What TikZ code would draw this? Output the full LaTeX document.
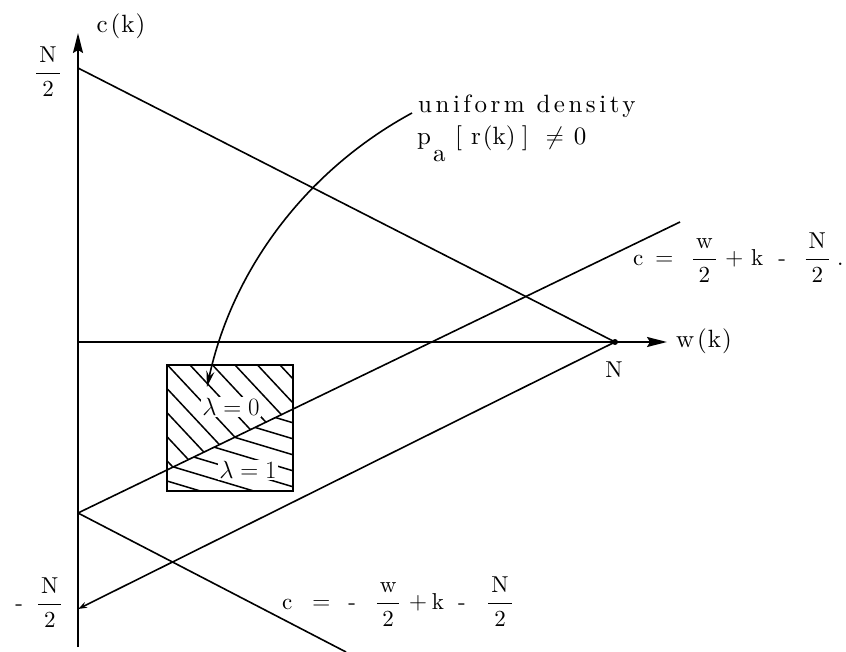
\documentclass[tikz,border=0pt]{standalone}
\usepackage{amsmath}
\usepackage{fontspec}
\setmainfont{lmroman10-regular.otf}[ItalicFont=lmroman10-italic.otf, BoldFont=lmroman10-bold.otf]
\newfontfamily\spacedfont{lmroman10-regular.otf}[LetterSpace=14]
\usetikzlibrary{arrows.meta}
\newcommand{\myfrac}[2]{\dfrac{\hspace{3pt}\mathrm{#1}\hspace{3pt}}{\mathrm{#2}}}
\begin{document}
\begin{tikzpicture}[x=1pt,y=-1pt,
  lbl/.style={font=\fontsize{23}{27}\selectfont, inner sep=0pt},
  word/.style={font=\fontsize{25}{29}\selectfont, inner sep=0pt},
  ln/.style={line width=1.6pt},
  axisline/.style={line width=1.8pt, -{Stealth[length=20pt,width=10pt,inset=3pt]}},
  hatch/.style={line width=1.5pt},
  boxline/.style={line width=2pt},
]
\useasboundingbox (0,0) rectangle (846,652);
% key points
\coordinate (O) at (78,342);
\coordinate (ytop) at (78,33);
\coordinate (ybot) at (78,647);
\coordinate (xend) at (667,342);
\coordinate (cpos) at (78,68);
\coordinate (cneg) at (78,609);
\coordinate (vA) at (78,513);
\coordinate (Nw) at (615,342);
\coordinate (Aend) at (680,222);
\coordinate (Cend) at (346,652);
\coordinate (bxA) at (167,365);
\coordinate (bxB) at (293,491);
\coordinate (cs) at (412,113);
\coordinate (ctip) at (207,387);

% hatching above line A (lambda = 0)
\begin{scope}
  \clip (167,365) -- (293,365) -- (293,409.5) -- (167,470.5) -- cycle;
  \foreach \x in {77.5,100,...,302.5}
    \draw[hatch] (\x-150,365-160.5) -- (\x+150,365+160.5);
\end{scope}
% hatching below line A (lambda = 1)
\begin{scope}
  \clip (167,470.5) -- (293,409.5) -- (293,491) -- (167,491) -- cycle;
  \foreach \y in {369,385,...,497}
    \draw[hatch] (140,\y-8.1) -- (320,\y+45.9);
\end{scope}
\draw[boxline] (bxA) rectangle (bxB);

% axes
\draw[axisline] (ybot) -- (ytop);
\draw[axisline] (O) -- (xend);

% lines
\draw[ln] (cpos) -- (Nw);
\draw[ln, -{Stealth[length=9pt,width=6pt]}] (Nw) -- (cneg);
\draw[ln] (vA) -- (Aend);
\draw[ln] (vA) -- (Cend);
\fill (Nw) circle (3pt);

% labels
\node[word] (ck) at (121,26) {c\hspace{3pt}(\hspace{1pt}k\hspace{1pt})};
\node[word] (wk) at (704,341) {w\hspace{3pt}(\hspace{1pt}k\hspace{1pt})};
\node[lbl] (Nlab) at (614,370) {N};
\node[lbl] (Nhalf) at (48,72) {$\myfrac{N}{2}$};
\node[lbl] (mNhalf) at (39,603) {-\hspace{14pt}$\myfrac{N}{2}$};

\node[lbl, anchor=west] (eqA) at (633,258)
  {$\mathrm{c}\hspace{12pt}{=}\hspace{18.5pt}\myfrac{w}{2}\hspace{8.5pt}{+}\hspace{8pt}\mathrm{k}\hspace{15pt}\mbox{-}\hspace{18.4pt}\myfrac{N}{2}\hspace{7pt}\mbox{.}$};
\node[lbl, anchor=west] (eqC) at (282,602)
  {$\mathrm{c}\hspace{20pt}{=}\hspace{18pt}\mbox{-}\hspace{19.6pt}\myfrac{w}{2}\hspace{8.5pt}{+}\hspace{5pt}\mathrm{k}\hspace{14pt}\mbox{-}\hspace{21.4pt}\myfrac{N}{2}$};

\node[lbl, fill=white, inner sep=1.5pt] (l0) at (231,407) {$\lambda = 0$};
\node[lbl, fill=white, inner sep=1.5pt] (l1) at (248,470) {$\lambda = 1$};

\node[word, anchor=base west] (ud) at (418,113) {\spacedfont uniform density};
\node[word, anchor=base west] (pa) at (417,145)
  {p\hspace{2pt}\raisebox{-17pt}{a}\hspace{9.5pt}[\hspace{9pt}r\hspace{2pt}(k)\hspace{6.4pt}]\hspace{17pt}$\neq$\hspace{10pt}0};

% curved arrow
\draw[ln, -{Stealth[length=16pt,width=8pt]}] (cs) .. controls (305,171) and (232,271) .. (ctip);
\end{tikzpicture}
\end{document}
